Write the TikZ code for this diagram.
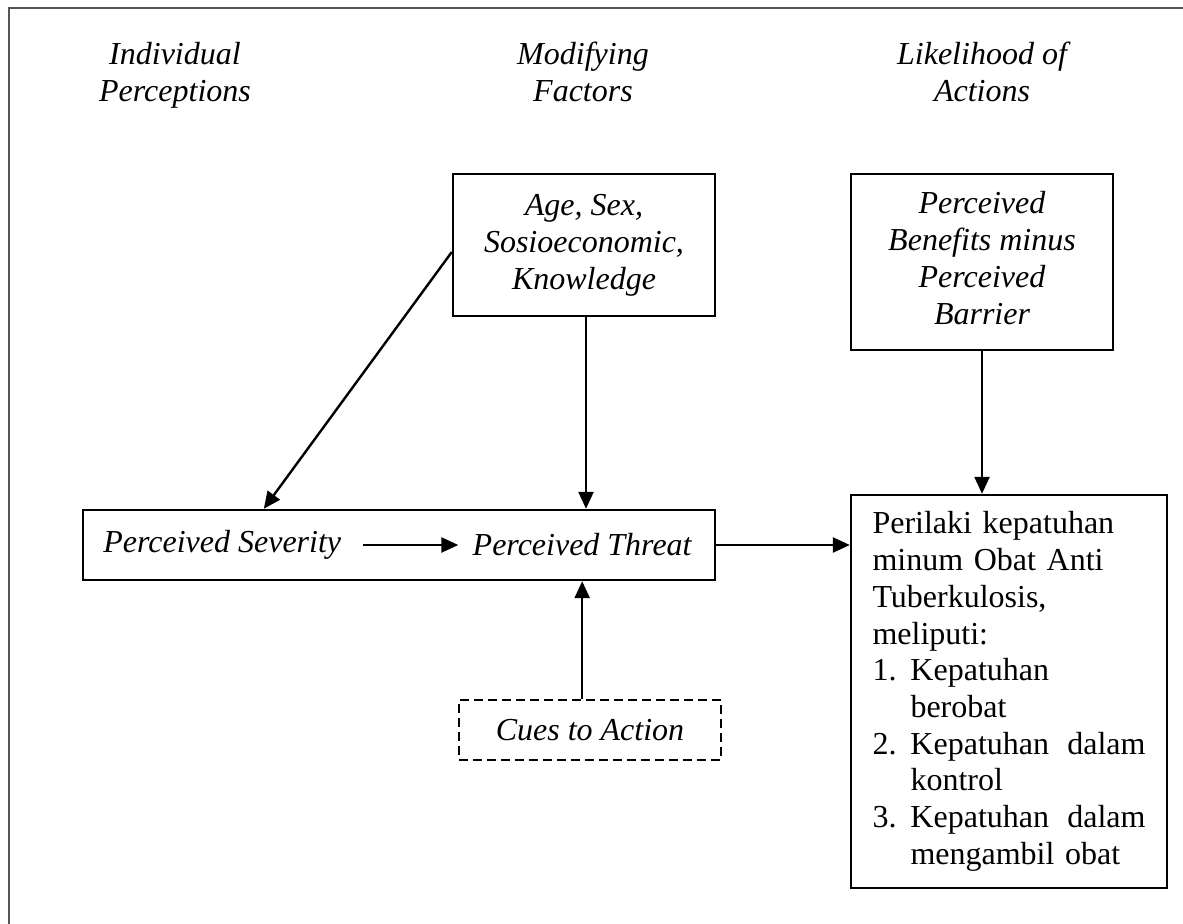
\documentclass[tikz,border=0pt]{standalone}
\usepackage{fontspec}
\setmainfont{Liberation Serif}
\usetikzlibrary{arrows.meta}
\definecolor{framegray}{RGB}{85,85,85}
\begin{document}
\begin{tikzpicture}[x=0.5pt,y=-0.5pt,
  txt/.style={font=\fontsize{16}{18.5}\selectfont\itshape, align=center, inner sep=0},
  box/.style={draw, line width=1.2pt, inner sep=0, font=\fontsize{16}{18.5}\selectfont\itshape, align=center},
  arr/.style={line width=1.2pt, -{Triangle[length=8.5pt,width=7.5pt]}}]
\useasboundingbox (0,0) rectangle (1183,924);
\draw[framegray, line width=1pt] (9,924) -- (9,8) -- (1183,8);
% headers
\node[txt] (h1) at (175,76) {\strut Individual\\\strut Perceptions};
\node[txt] (h2) at (583,76) {\strut Modifying\\\strut Factors};
\node[txt] (h3) at (982,76) {\strut Likelihood of\\\strut Actions};
% boxes
\node[box, minimum width=131pt, minimum height=71pt] (age) at (584,245) {\strut Age, Sex,\\\strut Sosioeconomic,\\\strut Knowledge};
\node[box, minimum width=131pt, minimum height=88pt] (ben) at (982,262) {\strut Perceived\\\strut Benefits minus\\\strut Perceived\\\strut Barrier};
\node[box, minimum width=316pt, minimum height=35pt] (pbox) at (399,545) {};
\node[txt, anchor=west] (sev) at (103,545) {Perceived Severity};
\node[txt, anchor=east] (thr) at (692,545) {Perceived Threat};
\node[box, dash pattern=on 4.5pt off 2.5pt, line width=0.8pt, minimum width=131pt, minimum height=30pt] (cues) at (590,730) {Cues to Action};
\node[draw, line width=1.2pt, inner sep=0, minimum width=158pt, minimum height=196.5pt,
  text width=136.5pt, align=left, font=\fontsize{16}{18.35}\selectfont] (act) at (1009,691.5)
  {Perilaki kepatuhan\\
   minum Obat Anti\\
   Tuberkulosis,\\
   meliputi:\\
   \makebox[19pt][l]{1.}Kepatuhan\\
   \hspace*{19pt}berobat\\
   \makebox[19pt][l]{2.}Kepatuhan\hfill dalam\\
   \hspace*{19pt}kontrol\\
   \makebox[19pt][l]{3.}Kepatuhan\hfill dalam\\
   \hspace*{19pt}mengambil obat};
% connectors
\draw[arr] ([yshift=-3.5pt]age.west) -- ([xshift=91pt]pbox.north west);
\draw[arr] ([xshift=1pt]age.south) -- ([xshift=1pt]age.south |- pbox.north);
\draw[arr] (cues.north -| thr.center) -- (thr.center |- pbox.south);
\draw[arr] (ben.south) -- (ben.south |- act.north);
\draw[arr] (pbox.east) -- (pbox.east -| act.west);
\draw[arr] ([xshift=10.5pt]sev.east) -- ([xshift=-7pt]thr.west);
\end{tikzpicture}
\end{document}
